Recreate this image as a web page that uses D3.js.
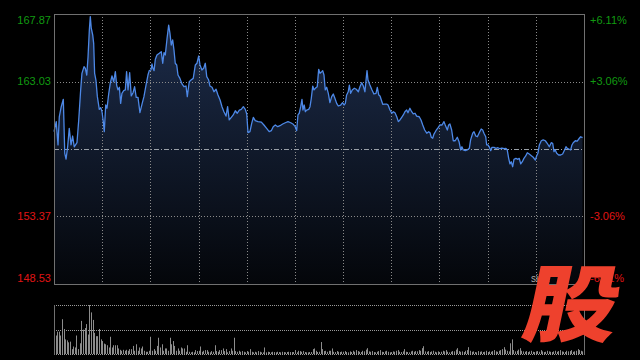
<!DOCTYPE html>
<meta charset="utf-8">
<style>
body { margin: 0; background: #000; }
text { font-family: "Liberation Sans", Arial, sans-serif; font-size: 11px; }
</style>
<body>
<script src="https://cdn.jsdelivr.net/npm/d3@7"></script>
<script>

// minute of the trading day (HK session, 330 min) and last price
var minutes = [
  0, 1.4, 2.5, 3.3, 4.5, 5.8, 6.7, 7.5, 8.5, 9.5,
  10.6, 11.6, 12.6, 14.3, 15.4, 16.6, 17.4, 18.7, 19.5, 20.4,
  21.2, 22.0, 22.6, 23.2, 24.1, 24.7, 25.3, 26.1, 27.0, 28.2,
  29.1, 29.9, 30.7, 31.3, 32.2, 33.0, 34.1, 35.1, 36.1, 37.2,
  38.2, 39.0, 39.8, 40.7, 41.5, 42.3, 43.4, 44.4, 45.2, 46.1,
  47.1, 48.1, 49.2, 50.2, 51.2, 52.3, 53.5, 54.8, 56.0, 57.3,
  58.5, 59.3, 60.4, 61.0, 61.6, 62.3, 63.1, 64.1, 65.6, 66.8,
  67.7, 68.5, 69.3, 70.4, 71.4, 72.2, 73.0, 73.9, 74.7, 75.5,
  76.4, 77.2, 78.4, 79.7, 80.9, 82.2, 83.0, 84.2, 85.3, 86.7,
  88.0, 89.0, 90.1, 90.9, 92.1, 93.2, 94.2, 95.1, 96.3, 97.1,
  98.4, 99.6, 100.9, 102.1, 103.4, 104.6, 105.8, 107.1, 108.1, 109.1,
  110.4, 111.6, 112.9, 114.1, 115.4, 116.6, 117.9, 119.1, 120.0, 120.8,
  122.0, 123.1, 124.1, 125.3, 127.0, 129.1, 130.7, 132.4, 134.0, 135.3,
  136.5, 137.8, 139.3, 140.7, 142.4, 144.0, 145.7, 147.4, 149.0, 150.2,
  151.1, 151.9, 152.7, 153.6, 154.4, 155.0, 155.8, 156.5, 157.3, 158.6,
  159.4, 160.2, 161.1, 161.9, 162.7, 163.9, 164.8, 165.6, 166.7, 167.3,
  168.1, 168.9, 169.8, 170.8, 171.8, 172.9, 173.9, 174.9, 176.0, 177.0,
  178.5, 179.7, 180.6, 181.4, 182.2, 183.2, 183.9, 184.7, 185.7, 187.0,
  188.2, 189.5, 190.5, 191.6, 192.6, 193.6, 194.3, 194.9, 195.5, 196.7,
  198.0, 199.2, 200.5, 201.3, 202.2, 203.0, 203.8, 204.7, 205.9, 207.1,
  208.0, 209.2, 210.3, 211.3, 212.3, 213.4, 214.4, 215.4, 216.5, 217.5,
  218.5, 219.6, 220.4, 221.6, 222.7, 223.7, 224.8, 225.8, 227.4, 228.5,
  229.6, 230.8, 232.1, 233.3, 234.1, 234.9, 235.8, 236.6, 237.8, 239.3,
  240.3, 241.6, 242.8, 243.6, 244.9, 245.7, 246.5, 247.6, 248.6, 249.8,
  251.1, 252.2, 253.2, 254.0, 254.8, 256.1, 257.3, 258.6, 259.4, 260.7,
  261.5, 262.6, 263.6, 264.8, 266.0, 266.9, 267.7, 268.8, 269.4, 270.2,
  271.0, 271.9, 272.7, 274.0, 275.2, 276.4, 277.7, 278.9, 280.2, 281.4,
  282.2, 283.1, 283.9, 284.7, 285.6, 286.4, 287.6, 288.9, 289.7, 290.6,
  291.6, 292.6, 293.7, 294.7, 295.9, 297.2, 298.4, 299.7, 300.5, 301.3,
  302.2, 303.4, 304.6, 305.9, 307.1, 308.4, 309.6, 310.5, 311.3, 312.1,
  313.0, 314.2, 315.5, 316.7, 317.9, 318.8, 319.6, 320.8, 321.7, 322.5,
  323.3, 324.6, 325.8, 327.1, 327.9, 329.1
];

var prices = [
  159.44, 160.16, 158.49, 160.51, 161.23, 161.76, 157.89, 157.48, 158.36, 159.68,
  158.49, 159.13, 158.36, 158.65, 160.28, 162.43, 163.62, 164.10, 163.98, 163.50,
  164.81, 166.72, 167.68, 166.85, 166.37, 165.77, 163.62, 163.14, 161.95, 161.04,
  161.16, 160.87, 160.16, 159.44, 161.35, 161.12, 162.19, 162.95, 163.43, 163.02,
  163.74, 162.78, 162.43, 162.62, 161.47, 162.19, 162.38, 162.43, 163.74, 162.43,
  163.67, 162.00, 162.23, 162.66, 161.90, 161.90, 160.80, 161.42, 161.95, 162.78,
  163.50, 163.81, 163.86, 164.29, 163.98, 163.81, 164.63, 164.93, 165.06, 165.17,
  164.34, 165.10, 164.93, 166.13, 167.08, 166.49, 165.65, 166.01, 165.29, 164.34,
  164.22, 163.50, 163.26, 162.86, 162.66, 162.71, 161.95, 163.02, 163.14, 163.26,
  164.22, 164.34, 164.86, 164.22, 163.86, 163.98, 164.34, 163.38, 163.14, 162.71,
  162.62, 162.30, 162.48, 162.07, 161.71, 161.23, 160.87, 160.56, 161.23, 160.28,
  160.47, 160.64, 160.94, 160.76, 160.99, 161.04, 161.23, 161.04, 160.71, 159.37,
  159.44, 160.04, 160.47, 160.23, 160.16, 160.13, 159.92, 159.68, 159.44, 159.51,
  159.80, 159.92, 159.80, 159.87, 159.99, 160.08, 160.16, 160.08, 159.97, 159.80,
  159.51, 160.64, 160.76, 161.23, 161.76, 160.99, 161.35, 160.87, 160.99, 161.04,
  161.23, 161.83, 162.71, 162.43, 162.55, 162.66, 163.91, 163.62, 163.74, 163.81,
  163.50, 162.43, 162.62, 162.19, 161.52, 161.95, 162.14, 161.83, 161.47, 161.28,
  161.35, 161.52, 161.35, 161.47, 162.07, 162.30, 162.78, 162.19, 162.43, 162.55,
  162.48, 162.30, 162.66, 162.95, 162.71, 162.30, 163.14, 163.81, 163.14, 162.78,
  162.43, 162.14, 162.19, 162.62, 162.07, 162.00, 161.71, 161.40, 161.42, 161.42,
  161.35, 160.99, 160.76, 160.87, 160.80, 160.51, 160.16, 160.28, 160.47, 160.64,
  160.87, 160.99, 160.80, 161.12, 160.87, 160.71, 160.76, 160.56, 160.51, 160.28,
  159.92, 159.56, 159.33, 159.44, 159.37, 159.04, 158.97, 159.27, 159.51, 159.75,
  159.92, 159.92, 160.16, 159.92, 159.56, 159.92, 159.99, 159.56, 158.79, 158.79,
  159.04, 158.72, 158.13, 158.36, 158.13, 158.08, 158.13, 158.25, 158.85, 159.33,
  159.44, 159.13, 159.08, 159.37, 159.63, 159.56, 159.33, 159.08, 158.49, 158.49,
  158.36, 158.08, 158.32, 158.32, 158.25, 158.29, 158.22, 158.27, 158.22, 158.25,
  158.13, 157.53, 157.13, 157.29, 156.93, 157.46, 157.53, 157.46, 157.53, 157.13,
  157.29, 157.53, 157.70, 157.93, 157.84, 157.72, 157.61, 157.41, 157.70, 157.89,
  158.49, 158.79, 158.85, 158.79, 158.61, 158.36, 158.65, 158.61, 158.01, 158.13,
  157.89, 157.77, 157.77, 157.84, 158.13, 158.36, 158.25, 158.18, 158.13, 158.49,
  158.65, 158.79, 158.77, 158.97, 159.08, 159.01
];

// volume per minute, 0..330
var volumes = [
  317, 190, 230, 230, 190, 357, 257, 150, 140, 120,
  127, 50, 77, 67, 190, 50, 110, 340, 250, 267,
  307, 200, 503, 427, 350, 217, 183, 183, 257, 150,
  133, 107, 100, 90, 67, 177, 67, 90, 90, 90,
  57, 43, 33, 43, 33, 43, 33, 50, 50, 83,
  33, 100, 33, 67, 57, 77, 33, 23, 23, 33,
  177, 33, 50, 33, 83, 167, 67, 100, 33, 57,
  57, 33, 167, 100, 133, 83, 33, 57, 33, 67,
  57, 57, 23, 90, 23, 17, 23, 17, 40, 30,
  33, 77, 23, 33, 40, 40, 23, 17, 30, 23,
  90, 30, 23, 40, 40, 57, 30, 50, 17, 30,
  57, 33, 167, 30, 23, 33, 23, 30, 23, 17,
  30, 23, 50, 23, 17, 23, 17, 30, 23, 17,
  17, 67, 17, 23, 20, 17, 23, 20, 17, 23,
  20, 17, 23, 20, 17, 20, 23, 20, 20, 20,
  40, 17, 33, 30, 23, 30, 20, 17, 17, 20,
  20, 50, 57, 33, 20, 23, 123, 50, 30, 33,
  23, 33, 33, 57, 23, 20, 30, 23, 20, 25,
  23, 30, 20, 17, 27, 20, 33, 23, 40, 30,
  23, 20, 33, 27, 45, 60, 27, 23, 30, 20,
  17, 23, 30, 40, 23, 20, 27, 33, 23, 17,
  20, 27, 23, 33, 40, 23, 20, 27, 50, 23,
  20, 17, 27, 33, 23, 30, 27, 40, 33, 60,
  80, 27, 23, 30, 20, 27, 33, 23, 17, 27,
  20, 23, 33, 27, 40, 23, 17, 23, 30, 27,
  45, 60, 30, 23, 27, 20, 33, 40, 70, 33,
  23, 27, 20, 17, 30, 23, 27, 20, 23, 33,
  20, 27, 23, 30, 40, 27, 23, 33, 40, 50,
  70, 45, 33, 27, 110, 150, 40, 27, 33, 45,
  60, 33, 27, 23, 30, 20, 27, 33, 23, 20,
  27, 30, 23, 40, 27, 20, 23, 33, 27, 23,
  20, 27, 33, 23, 30, 40, 27, 23, 20, 33,
  27, 30, 40, 23, 27, 33, 50, 40, 33, 27,
  30
];

var prevClose = 158.20;
var priceTicks = [167.87, 163.03, 153.37, 148.53];
var pctLabels = ["+6.11%", "+3.06%", "-3.06%", "-6.11%"];
var timeGrid = [30, 60, 90, 120, 150, 180, 210, 240, 270, 300];

var W = 640, H = 360;
var pLeft = 54, pRight = 584, pTop = 14, pBottom = 284;
var vTop = 305, vBottom = 354;

var svg = d3.select("body").append("svg")
    .attr("width", W)
    .attr("height", H)
    .style("display", "block")
    .style("background", "#000");

var x = d3.scaleLinear().domain([0, 330]).range([pLeft, pRight]);
var y = d3.scaleLinear().domain([148.53, 167.87]).range([pBottom, pTop]);
var yv = d3.scaleLinear().domain([0, d3.max(volumes)]).range([vBottom, vTop]);

var grad = svg.append("defs").append("linearGradient")
    .attr("id", "fill")
    .attr("gradientUnits", "userSpaceOnUse")
    .attr("x1", 0).attr("x2", 0)
    .attr("y1", pTop).attr("y2", pBottom);
grad.append("stop").attr("offset", 0).attr("stop-color", "#1d2d4c");
grad.append("stop").attr("offset", 1).attr("stop-color", "#04060a");

var pts = minutes.map(function(m, i) { return [m, prices[i]]; });

var area = d3.area()
    .x(function(d) { return x(d[0]); })
    .y0(pBottom)
    .y1(function(d) { return y(d[1]); });

var line = d3.line()
    .x(function(d) { return x(d[0]); })
    .y(function(d) { return y(d[1]); });

svg.append("path")
    .datum(pts)
    .attr("d", area)
    .attr("fill", "url(#fill)");

function px(v) { return Math.round(v) + 0.5; }

// grid
svg.selectAll(".vgrid")
    .data(timeGrid)
  .enter().append("line")
    .attr("x1", function(d) { return px(x(d)); })
    .attr("x2", function(d) { return px(x(d)); })
    .attr("y1", pTop).attr("y2", pBottom)
    .attr("stroke", "#8a8a8a")
    .attr("stroke-dasharray", "1,2");

svg.selectAll(".hgrid")
    .data([163.03, 153.37])
  .enter().append("line")
    .attr("x1", pLeft).attr("x2", pRight)
    .attr("y1", function(d) { return px(y(d)); })
    .attr("y2", function(d) { return px(y(d)); })
    .attr("stroke", "#8a8a8a")
    .attr("stroke-dasharray", "1,2");

svg.append("line")
    .attr("x1", pLeft).attr("x2", pRight)
    .attr("y1", px(y(prevClose))).attr("y2", px(y(prevClose)))
    .attr("stroke", "#9aa0a8")
    .attr("stroke-dasharray", "5,2,1,2");

svg.append("path")
    .datum(pts)
    .attr("d", line)
    .attr("fill", "none")
    .attr("stroke", "#4d88e6")
    .attr("stroke-width", 1.3)
    .attr("stroke-linejoin", "round");

svg.append("rect")
    .attr("x", pLeft + 0.5).attr("y", pTop + 0.5)
    .attr("width", pRight - pLeft).attr("height", pBottom - pTop)
    .attr("fill", "none")
    .attr("stroke", "#707070");

// labels
svg.selectAll(".lab")
    .data(priceTicks)
  .enter().append("text")
    .attr("x", 51)
    .attr("y", function(d) { return Math.min(Math.max(y(d), pTop + 6), pBottom - 6); })
    .attr("dy", "0.35em")
    .attr("text-anchor", "end")
    .attr("fill", function(d) { return d > prevClose ? "#119a11" : "#e01414"; })
    .text(function(d) { return d.toFixed(2); });

svg.selectAll(".pct")
    .data(pctLabels)
  .enter().append("text")
    .attr("x", 590)
    .attr("y", function(d, i) { return Math.min(Math.max(y(priceTicks[i]), pTop + 6), pBottom - 6); })
    .attr("dy", "0.35em")
    .attr("fill", function(d) { return d[0] == "+" ? "#119a11" : "#e01414"; })
    .text(function(d) { return d; });

svg.append("text")
    .attr("x", 531).attr("y", 278)
    .attr("dy", "0.35em")
    .attr("fill", "#aaaaaa")
    .style("font-size", "10px")
    .text("sina");

// volume panel
svg.selectAll(".vg")
    .data([vTop, (vTop + vBottom) / 2, vBottom])
  .enter().append("line")
    .attr("x1", pLeft).attr("x2", pRight)
    .attr("y1", function(d) { return px(d); })
    .attr("y2", function(d) { return px(d); })
    .attr("stroke", "#9a9a9a")
    .attr("stroke-dasharray", "1,1");

svg.selectAll(".vol")
    .data(volumes)
  .enter().append("rect")
    .attr("x", function(d, i) { return Math.round(x(i)); })
    .attr("width", 1)
    .attr("y", function(d) { return yv(d); })
    .attr("height", function(d) { return vBottom - yv(d); })
    .attr("fill", "#8c8c8c");

[pLeft, pRight].forEach(function(v) {
  svg.append("line")
      .attr("x1", px(v)).attr("x2", px(v))
      .attr("y1", vTop).attr("y2", vBottom + 1)
      .attr("stroke", "#707070");
});

// logo
svg.append("text")
    .attr("transform", "translate(573,305) skewX(-12) scale(1.12,1)")
    .attr("text-anchor", "middle")
    .attr("dy", "0.36em")
    .attr("fill", "#ee412d")
    .style("font-family", "'Noto Sans CJK SC', sans-serif")
    .style("font-weight", 900)
    .style("font-size", "84px")
    .text("股");

</script>
